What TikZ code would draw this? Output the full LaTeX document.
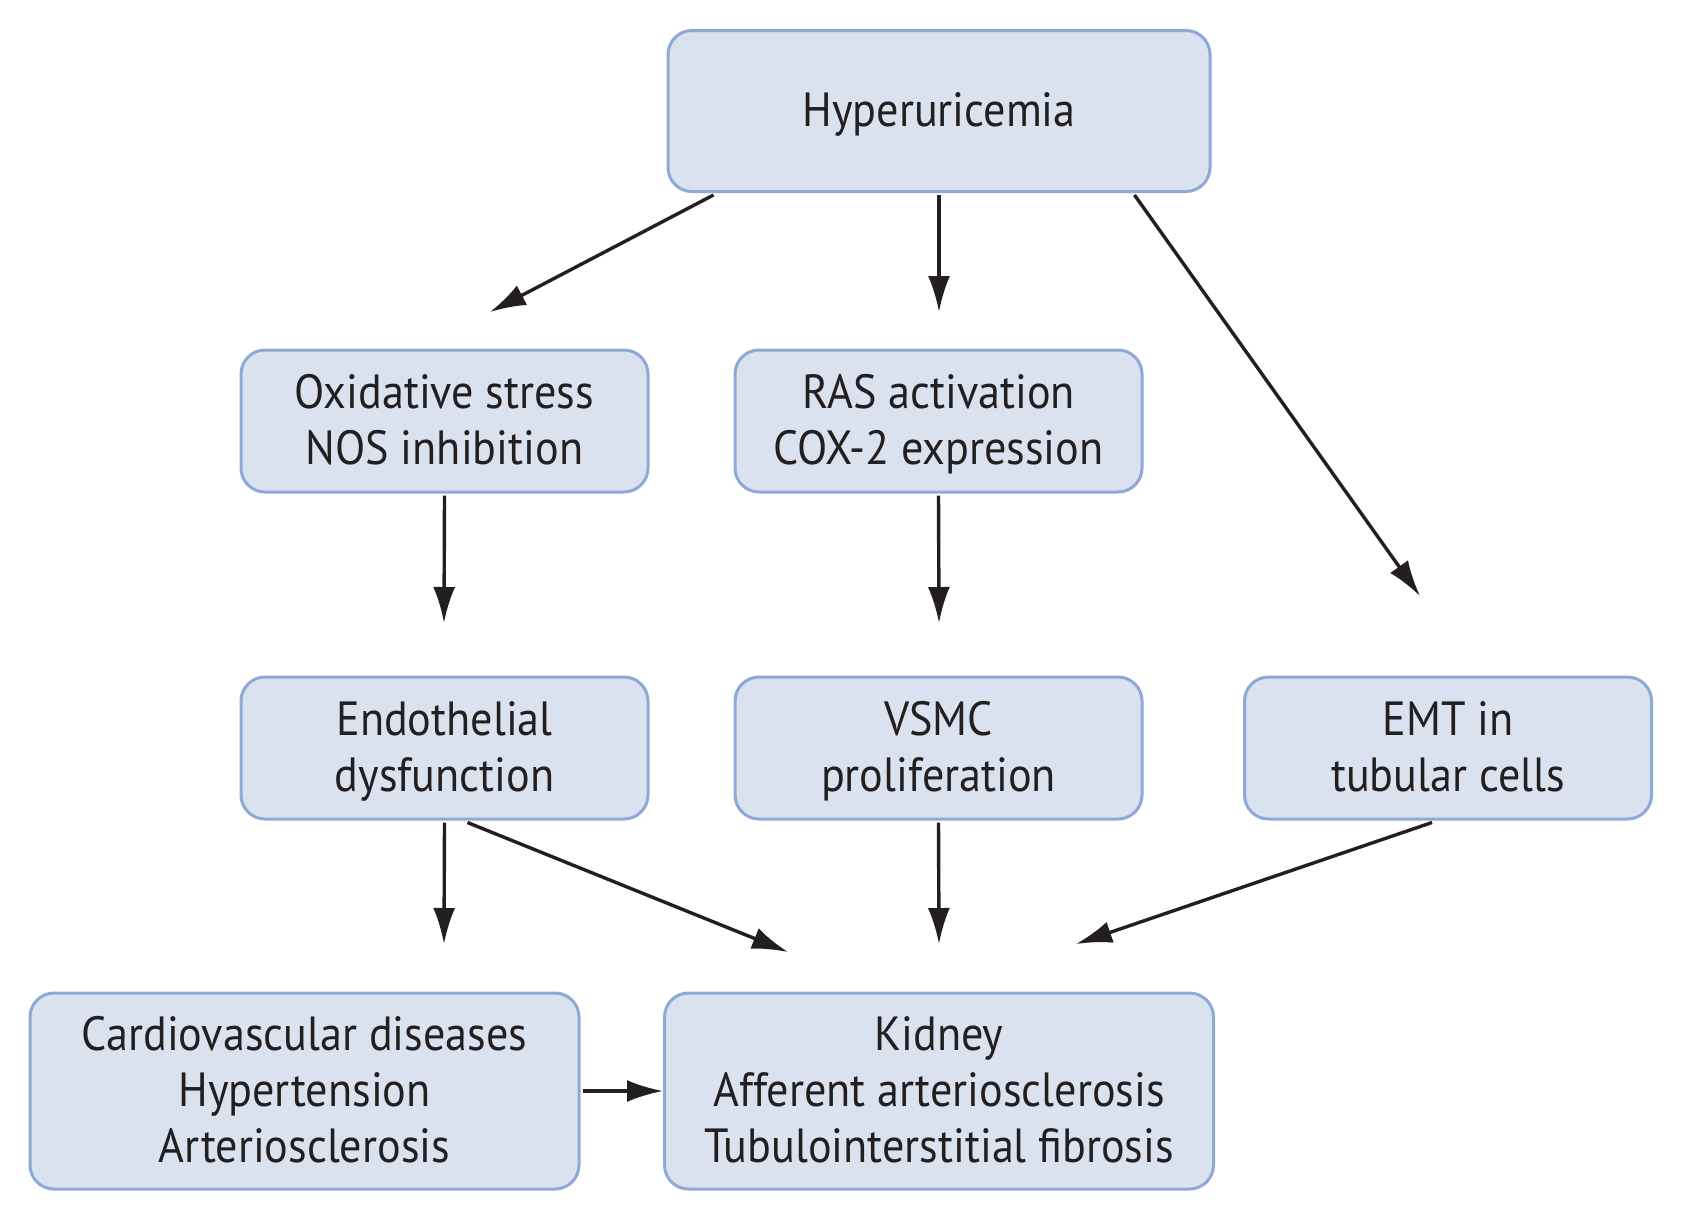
\documentclass[tikz,border=0pt]{standalone}
\usepackage{fontspec}
\setmainfont[FakeStretch=0.92]{PT Sans}
\usetikzlibrary{arrows.meta}
\definecolor{boxfill}{HTML}{DAE1EF}
\definecolor{boxline}{HTML}{8FA9D6}
\definecolor{ink}{HTML}{231F20}
\newcommand\lnstrut{\rule[-6.2pt]{0pt}{28pt}}
\begin{document}
\begin{tikzpicture}[x=0.5pt,y=-0.5pt,
  box/.style={draw=boxline,fill=boxfill,line width=1.5pt,rounded corners=12pt,
    align=center,text=ink,font=\fontsize{24}{28}\selectfont,inner sep=0pt},
  small/.style={box,minimum width=203.5pt,minimum height=71pt},
  big/.style={box,minimum width=274.5pt,minimum height=98pt},
  top/.style={box,minimum width=271pt,minimum height=80.5pt},
  arr/.style={draw=ink,line width=1.7pt,-{Latex[length=18pt,width=11pt]}}]
\useasboundingbox (0,0) rectangle (1685,1222);
\fill[white] (0,0) rectangle (1685,1222);
\node[top] (hyp) at (939,111) {Hyperuricemia\lnstrut};
\node[small] (ox) at (444.5,421) {Oxidative stress\lnstrut\\NOS inhibition\lnstrut};
\node[small] (ras) at (938.5,421) {RAS activation\lnstrut\\COX-2 expression\lnstrut};
\node[small] (endo) at (444.5,748) {Endothelial\lnstrut\\dysfunction\lnstrut};
\node[small] (vsmc) at (938.5,748) {VSMC\lnstrut\\proliferation\lnstrut};
\node[small] (emt) at (1448,748) {EMT in\lnstrut\\tubular cells\lnstrut};
\node[big] (cv) at (304.5,1091) {Cardiovascular diseases\lnstrut\\Hypertension\lnstrut\\Arteriosclerosis\lnstrut};
\node[big] (kid) at (939,1091) {Kidney\lnstrut\\Afferent arteriosclerosis\lnstrut\\Tubulointerstitial fibrosis\lnstrut};
% arrow ends
\coordinate (e1) at (490,312);
\coordinate (e2) at (939,312);
\coordinate (e3) at (1420,596);
\coordinate (e4) at (444,623);
\coordinate (e5) at (939,623);
\coordinate (e6) at (444,944);
\coordinate (e7) at (788,952);
\coordinate (e8) at (939,944);
\coordinate (e9) at (1076,944);
\draw[arr] (hyp.south west) ++(47,2) -- (e1);
\draw[arr] ([yshift=-1pt]hyp.south) -- (e2);
\draw[arr] ([xshift=-38.5pt,yshift=-1pt]hyp.south east) -- (e3);
\draw[arr] ([yshift=-1pt]ox.south) -- (e4);
\draw[arr] ([yshift=-1pt]ras.south) -- (e5);
\draw[arr] ([yshift=-1pt]endo.south) -- (e6);
\draw[arr] ([xshift=11.5pt,yshift=-1pt]endo.south) -- (e7);
\draw[arr] ([yshift=-1pt]vsmc.south) -- (e8);
\draw[arr] ([xshift=-8pt,yshift=-1pt]emt.south) -- (e9);
\draw[arr] ([xshift=1pt]cv.east) -- (kid.west);
\end{tikzpicture}
\end{document}
